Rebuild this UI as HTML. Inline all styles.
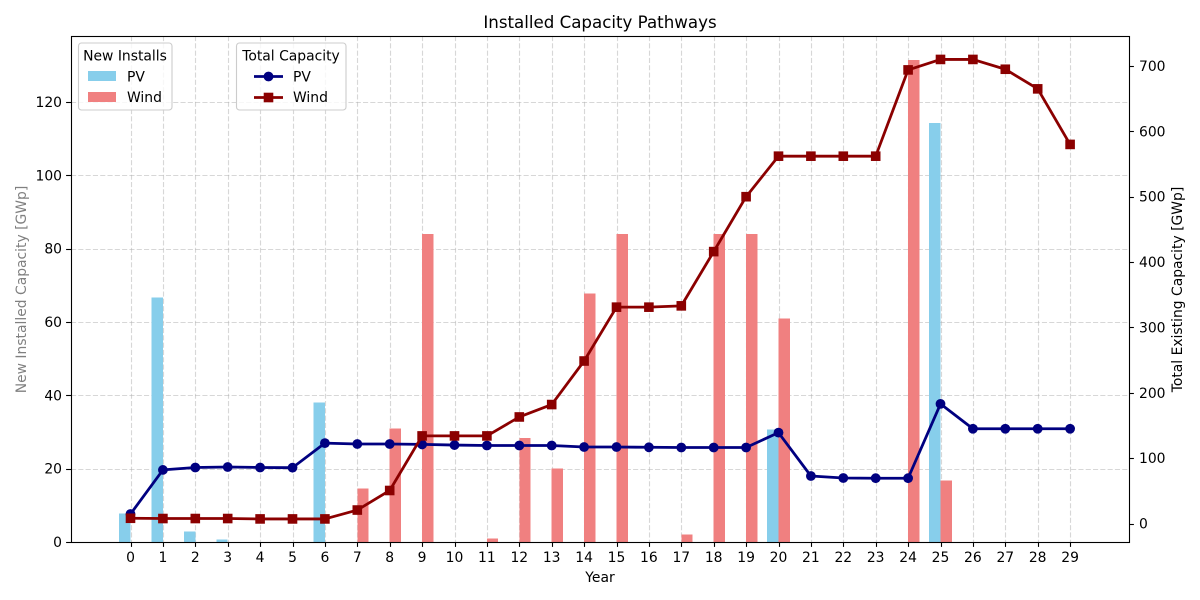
<!DOCTYPE html>
<html lang="en">
<head>
<meta charset="utf-8">
<title>Installed Capacity Pathways</title>
<style>
html,body{margin:0;padding:0;background:#fff;}
svg{display:block;font-family:"DejaVu Sans","Liberation Sans",sans-serif;}
text{fill:#000;font-size:13.9px;}
</style>
</head>
<body>
<svg id="chart" xmlns="http://www.w3.org/2000/svg" width="1200" height="600" viewBox="0 0 1200 600">
  <rect x="0" y="0" width="1200" height="600" fill="#ffffff"/>
  <g id="grid"></g>
  <g id="bars" shape-rendering="crispEdges"></g>
  <g id="lines"></g>
  <g id="axes"></g>
  <text x="600" y="28" text-anchor="middle" style="font-size:16.67px">Installed Capacity Pathways</text>
  <text x="600" y="582" text-anchor="middle">Year</text>
  <text transform="translate(26,289.5) rotate(-90)" text-anchor="middle" style="fill:#808080">New Installed Capacity [GWp]</text>
  <text transform="translate(1182,289.5) rotate(-90)" text-anchor="middle">Total Existing Capacity [GWp]</text>

  <g>
    <rect x="78.5" y="43" width="93.5" height="67" rx="3" fill="#ffffff" fill-opacity="0.8" stroke="#cccccc" stroke-width="1.1"/>
    <text x="125" y="60.5" text-anchor="middle">New Installs</text>
    <rect x="88" y="71" width="28" height="10" fill="#87ceeb"/>
    <text x="127" y="81.5">PV</text>
    <rect x="88" y="92" width="28" height="10" fill="#f08080"/>
    <text x="127" y="102">Wind</text>
  </g>
  <g>
    <rect x="236.5" y="43" width="109.5" height="67" rx="3" fill="#ffffff" fill-opacity="0.8" stroke="#cccccc" stroke-width="1.1"/>
    <text x="291" y="60.5" text-anchor="middle">Total Capacity</text>
    <line x1="254" y1="76.5" x2="283" y2="76.5" stroke="#000080" stroke-width="2.78"/>
    <circle cx="268.5" cy="76.5" r="4.9" fill="#000080"/>
    <text x="293" y="81.5">PV</text>
    <line x1="254" y1="97.5" x2="283" y2="97.5" stroke="#8b0000" stroke-width="2.78"/>
    <rect x="263.7" y="92.7" width="9.6" height="9.6" fill="#8b0000"/>
    <text x="293" y="102">Wind</text>
  </g>
</svg>
<script>
var years = [0,1,2,3,4,5,6,7,8,9,10,11,12,13,14,15,16,17,18,19,20,21,22,23,24,25,26,27,28,29];
var newPv = [7.8,66.7,2.9,0.7,0,0,38,0,0,0,0,0,0,0,0,0,0,0,0,0,30.7,0,0,0,0,114.2,0,0,0,0];
var newWind = [0,0,0,0,0,0,0,14.6,31,84,0,1,28.3,20,67.7,84,0,2,84,84,61,0,0,0,131.5,16.8,0,0,0,0];
var totalPv = [14.5,82,85.7,86.4,85.7,85.4,123,121.6,121.6,121,120,119.3,119.3,119.3,117,117,116.6,116.3,116.3,116.3,139,72.7,69.6,69.3,69.3,183,145,145,145,145];
var totalWind = [8,7.6,7.6,7.6,7,7,7,20.6,50.5,134,134,134,163,182,248.6,331,331,333,416,500,562,562,562,562,694,710,710,695,665,580];
var leftTicks = [0,20,40,60,80,100,120];
var rightTicks = [0,100,200,300,400,500,600,700];

var NS = 'http://www.w3.org/2000/svg';
var plot = {left:71, right:1129, top:36, bottom:542};
function xScale(v){ return 130.5 + v * 32.4; }
function yLeft(v){ return 542 - v * 3.667; }
function yRight(v){ return 523.5 - v * 0.6536; }
function make(parent, tag, attrs){
  var node = document.createElementNS(NS, tag);
  for (var k in attrs) node.setAttribute(k, attrs[k]);
  parent.appendChild(node);
  return node;
}
function snap(v){ return Math.round(v) + 0.5; }

var gridG = document.getElementById('grid');
var barsG = document.getElementById('bars');
var linesG = document.getElementById('lines');
var axesG = document.getElementById('axes');

years.forEach(function(y){
  var gx = snap(xScale(y));
  var line = make(gridG, 'line', {x1:gx, x2:gx, y1:plot.top, y2:plot.bottom, stroke:'#b0b0b0', 'stroke-opacity':0.5, 'stroke-width':1.1, 'stroke-dasharray':'5.1,2.2'});
  
  
  var tick = make(axesG, 'line', {x1:gx, x2:gx, y1:plot.bottom, y2:plot.bottom + 4.9, stroke:'#000', 'stroke-width':1.1});
  
  
  var label = make(axesG, 'text', {x:xScale(y), y:562, 'text-anchor':'middle'});
  label.textContent = y;
  
  
});

leftTicks.forEach(function(v){
  var gy = snap(yLeft(v));
  var line = make(gridG, 'line', {x1:plot.left, x2:plot.right, y1:gy, y2:gy, stroke:'#b0b0b0', 'stroke-opacity':0.5, 'stroke-width':1.1, 'stroke-dasharray':'5.1,2.2'});
  
  
  var tick = make(axesG, 'line', {x1:plot.left - 4.9, x2:plot.left, y1:gy, y2:gy, stroke:'#000', 'stroke-width':1.1});
  
  
  var label = make(axesG, 'text', {x:plot.left - 9, y:yLeft(v) + 5, 'text-anchor':'end'});
  label.textContent = v;
  
  
});

rightTicks.forEach(function(v){
  var gy = snap(yRight(v));
  var tick = make(axesG, 'line', {x1:plot.right, x2:plot.right + 4.9, y1:gy, y2:gy, stroke:'#000', 'stroke-width':1.1});
  
  
  var label = make(axesG, 'text', {x:plot.right + 10, y:yRight(v) + 5, 'text-anchor':'start'});
  label.textContent = v;
  
  
});

var frame = make(axesG, 'rect', {x:plot.left + 0.5, y:plot.top + 0.5, width:plot.right - plot.left, height:plot.bottom - plot.top, fill:'none', stroke:'#000', 'stroke-width':1.1});



var barUnits = 0.35;
years.forEach(function(y, i){
  if (newPv[i] > 0) {
    var pv = make(barsG, 'rect', {x:xScale(y - barUnits), y:yLeft(newPv[i]), width:xScale(y) - xScale(y - barUnits), height:yLeft(0) - yLeft(newPv[i]), fill:'#87ceeb'});
    
    
  }
  if (newWind[i] > 0) {
    var wd = make(barsG, 'rect', {x:xScale(y), y:yLeft(newWind[i]), width:xScale(y + barUnits) - xScale(y), height:yLeft(0) - yLeft(newWind[i]), fill:'#f08080'});
    
    
  }
});

function points(series){
  return series.map(function(v, i){ return xScale(years[i]) + ',' + yRight(v); }).join(' ');
}
var pvLine = make(linesG, 'polyline', {points:points(totalPv), fill:'none', stroke:'#000080', 'stroke-width':2.78, 'stroke-linejoin':'round'});


totalPv.forEach(function(v, i){
  var c = make(linesG, 'circle', {cx:xScale(years[i]), cy:yRight(v), r:4.9, fill:'#000080'});
  
  
});
var windLine = make(linesG, 'polyline', {points:points(totalWind), fill:'none', stroke:'#8b0000', 'stroke-width':2.78, 'stroke-linejoin':'round'});


totalWind.forEach(function(v, i){
  var s = make(linesG, 'rect', {x:xScale(years[i]) - 4.8, y:yRight(v) - 4.8, width:9.6, height:9.6, fill:'#8b0000'});
  
  
});
</script>
</body>
</html>
